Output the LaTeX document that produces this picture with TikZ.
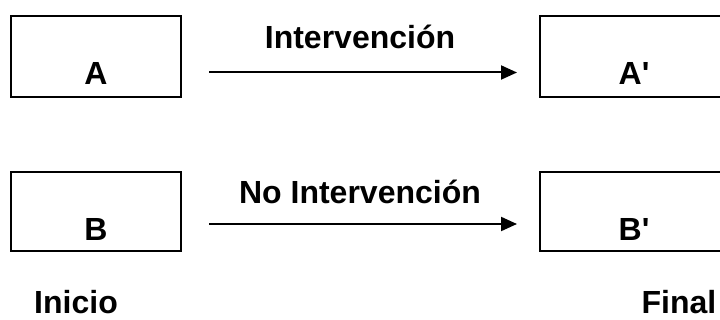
\documentclass[tikz,border=0pt]{standalone}
\usepackage{fontspec}
\setmainfont{Liberation Sans}
\usetikzlibrary{arrows.meta}
\tikzset{
  box/.style={draw=black, line width=2pt, rectangle, inner sep=0pt},
  lbl/.style={font=\fontsize{32}{36}\selectfont\bfseries, anchor=base, inner sep=0pt},
  conn/.style={line width=2pt, -{Triangle[length=16pt,width=14pt]}}
}
\begin{document}
\begin{tikzpicture}[x=1pt,y=-1pt]
\useasboundingbox (0,0) rectangle (720,320);
% boxes
\node[box, minimum width=170pt, minimum height=81pt] (A) at (96,56.5) {};
\node[box, minimum width=190pt, minimum height=81pt] (Ap) at (635,56.5) {};
\node[box, minimum width=170pt, minimum height=79pt] (B) at (96,211.5) {};
\node[box, minimum width=190pt, minimum height=79pt] (Bp) at (635,211.5) {};
% box labels
\node[lbl] (tA) at (96,85) {A};
\node[lbl] (tAp) at (634,85) {A\textquotesingle};
\node[lbl] (tB) at (96,240.5) {B};
\node[lbl] (tBp) at (634,240.5) {B\textquotesingle};
% arrows
\coordinate (a1) at (209,72.5);
\coordinate (a2) at (517,72.5);
\coordinate (b1) at (209,224);
\coordinate (b2) at (517,224);
\draw[conn] (a1) -- (a2);
\draw[conn] (b1) -- (b2);
% arrow labels
\node[lbl] (tI) at (360,49) {Intervención};
\node[lbl] (tNI) at (360,204) {No Intervención};
% bottom labels
\node[lbl] (tIni) at (76,313) {Inicio};
\node[lbl] (tFin) at (679,313) {Final};
\end{tikzpicture}
\end{document}
